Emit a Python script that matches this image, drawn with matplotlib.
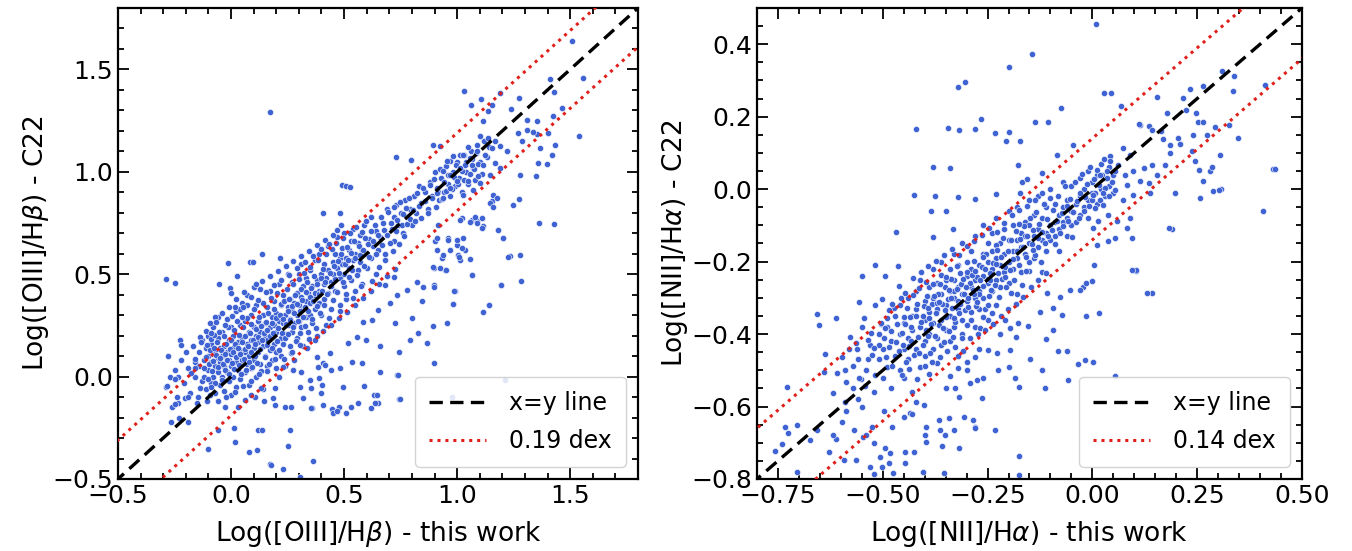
import numpy as np
import matplotlib.pyplot as plt
from matplotlib.ticker import MultipleLocator

# ---- left panel: [OIII]/Hbeta, this work vs C22 ----
oiii_core = [
    (-0.29, -0.05), (-0.27, 0.0), (-0.25, 0.03), (-0.24, -0.1), (-0.22, 0.08), (-0.21, -0.03),
    (-0.2, 0.12), (-0.19, 0.04), (-0.18, -0.08), (-0.17, 0.15), (-0.16, 0.0), (-0.16, 0.07),
    (-0.15, -0.13), (-0.23, -0.2), (-0.26, -0.15), (-0.28, 0.1),
    (-0.14, 0.05), (-0.14, 0.12), (-0.13, -0.02), (-0.13, 0.18), (-0.12, 0.08), (-0.12, 0.0),
    (-0.11, 0.14), (-0.11, -0.06), (-0.10, 0.1), (-0.10, 0.03), (-0.10, 0.2), (-0.09, -0.03),
    (-0.09, 0.07), (-0.09, 0.16), (-0.08, 0.11), (-0.08, 0.0), (-0.08, 0.24), (-0.07, 0.05),
    (-0.07, -0.08), (-0.07, 0.13), (-0.06, 0.09), (-0.06, 0.19), (-0.06, 0.02), (-0.05, -0.04),
    (-0.05, 0.14), (-0.05, 0.07),
    (-0.04, 0.1), (-0.04, 0.22), (-0.04, 0.0), (-0.03, 0.05), (-0.03, 0.15), (-0.03, -0.07),
    (-0.02, 0.12), (-0.02, 0.28), (-0.02, 0.02), (-0.01, 0.08), (-0.01, 0.18), (-0.01, -0.02),
    (0.0, 0.11), (0.0, 0.05), (0.0, 0.24), (0.0, -0.09), (0.01, 0.14), (0.01, 0.0), (0.01, 0.2),
    (0.02, 0.07), (0.02, 0.32), (0.02, -0.05), (0.03, 0.1), (0.03, 0.17), (0.03, 0.03),
    (0.04, 0.13), (0.04, 0.25), (0.04, -0.01), (0.05, 0.08), (0.05, 0.19), (0.05, 0.36),
    (0.06, 0.12), (0.06, 0.02), (0.06, 0.27), (0.07, 0.16), (0.07, 0.06), (0.07, 0.4),
    (0.08, 0.1), (0.08, 0.22), (0.08, -0.04), (0.09, 0.18), (0.09, 0.3), (0.09, 0.04),
    (0.10, 0.14), (0.10, 0.24), (0.10, 0.08), (0.11, 0.2), (0.11, 0.35), (0.11, 0.0),
    (0.12, 0.12), (0.12, 0.27), (0.12, 0.17), (0.13, 0.06), (0.13, 0.22), (0.13, 0.43),
    (0.14, 0.15), (0.14, 0.3), (0.14, -0.06), (0.15, 0.2), (0.15, 0.1), (0.15, 0.26),
    (0.16, 0.18), (0.16, 0.34), (0.16, 0.05), (0.17, 0.24), (0.17, 0.13), (0.17, 0.42),
    (0.18, 0.2), (0.18, 0.29), (0.18, 0.08), (0.19, 0.16), (0.19, 0.37), (0.19, 0.25),
    (0.2, 0.22), (0.2, 0.12), (0.2, 0.31), (0.21, 0.27), (0.21, 0.0), (0.21, 0.45),
    (0.22, 0.19), (0.22, 0.35), (0.22, 0.1), (0.23, 0.26), (0.23, 0.4), (0.23, 0.16),
    (0.24, 0.3), (0.24, 0.21), (0.24, 0.05), (0.25, 0.34), (0.25, 0.25), (0.25, 0.5),
    (0.26, 0.28), (0.26, 0.38), (0.26, 0.15), (0.27, 0.32), (0.27, 0.22), (0.27, 0.46),
    (0.28, 0.36), (0.28, 0.26), (0.28, 0.08), (0.29, 0.3), (0.29, 0.41), (0.29, 0.19),
    (0.3, 0.35), (0.3, 0.5), (0.3, 0.27), (0.31, 0.39), (0.31, 0.24), (0.31, 0.55),
    (0.32, 0.33), (0.32, 0.44), (0.32, 0.15), (0.33, 0.37), (0.33, 0.29), (0.33, 0.48),
    (0.34, 0.41), (0.34, 0.22), (0.35, 0.36), (0.35, 0.52), (0.35, 0.3),
    (0.36, 0.44), (0.36, 0.26), (0.37, 0.39), (0.37, 0.57), (0.37, 0.33), (0.38, 0.47),
    (0.38, 0.2), (0.39, 0.42), (0.39, 0.36), (0.39, 0.6), (0.4, 0.5), (0.4, 0.3),
    (0.41, 0.45), (0.41, 0.38), (0.41, 0.55), (0.42, 0.48), (0.42, 0.25), (0.43, 0.52),
    (0.43, 0.41), (0.43, 0.64), (0.44, 0.46), (0.44, 0.33), (0.45, 0.56), (0.45, 0.5),
    (0.46, 0.6), (0.46, 0.42), (0.47, 0.53), (0.47, 0.68), (0.48, 0.48), (0.48, 0.58),
    (0.48, 0.35), (0.49, 0.55), (0.49, 0.63), (0.5, 0.5), (0.5, 0.44), (0.5, 0.7),
    (0.51, 0.58), (0.51, 0.38), (0.52, 0.62), (0.52, 0.53), (0.53, 0.66), (0.53, 0.47),
    (0.54, 0.57), (0.54, 0.72), (0.55, 0.6), (0.55, 0.42),
    (0.56, 0.65), (0.56, 0.52), (0.57, 0.69), (0.57, 0.56), (0.58, 0.62), (0.58, 0.45),
    (0.59, 0.74), (0.6, 0.6), (0.6, 0.53), (0.61, 0.67), (0.62, 0.58), (0.62, 0.78),
    (0.63, 0.64), (0.64, 0.5), (0.64, 0.71), (0.65, 0.62), (0.66, 0.68), (0.67, 0.75),
    (0.68, 0.6), (0.69, 0.82),
    (0.71, 0.72), (0.72, 0.78), (0.72, 0.66), (0.73, 0.84), (0.74, 0.74), (0.75, 0.8),
    (0.76, 0.7), (0.77, 0.86), (0.78, 0.78), (0.79, 0.82), (0.8, 0.74), (0.81, 0.88),
    (0.82, 0.8), (0.83, 0.93), (0.84, 0.85),
    (0.86, 0.9), (0.87, 0.82), (0.88, 0.95), (0.89, 0.88), (0.9, 1.0), (0.91, 0.92),
    (0.92, 0.86), (0.93, 0.97), (0.94, 0.9), (0.95, 1.03), (0.96, 0.94), (0.97, 0.88),
    (0.98, 1.0), (0.99, 0.93),
    (1.0, 1.05), (1.01, 0.97), (1.02, 0.9), (1.03, 1.08), (1.04, 1.0), (1.05, 0.94),
    (1.06, 1.1), (1.07, 1.02), (1.08, 0.96), (1.09, 1.13), (1.1, 1.05), (1.11, 0.99),
    (1.12, 1.15), (1.13, 1.07), (1.14, 1.12),
]

oiii_dense = [
    (-0.118, 0.043), (-0.112, 0.098), (-0.106, 0.152), (-0.101, -0.012), (-0.097, 0.061),
    (-0.093, 0.128), (-0.088, 0.185), (-0.084, 0.025), (-0.079, 0.077), (-0.075, 0.142),
    (-0.071, -0.031), (-0.066, 0.104), (-0.062, 0.168), (-0.058, 0.047), (-0.054, 0.216),
    (-0.049, 0.089), (-0.045, 0.131), (-0.041, -0.018), (-0.037, 0.061), (-0.033, 0.196),
    (-0.029, 0.112), (-0.025, 0.034), (-0.021, 0.158), (-0.017, 0.083), (-0.013, 0.241),
    (-0.009, 0.012), (-0.005, 0.137), (-0.002, 0.179),
    (0.003, 0.066), (0.007, 0.118), (0.011, 0.226), (0.014, 0.038), (0.018, 0.161), (0.022, 0.097),
    (0.026, 0.272), (0.029, 0.139), (0.033, 0.058), (0.037, 0.205), (0.041, 0.112), (0.045, 0.015),
    (0.048, 0.168), (0.052, 0.244), (0.056, 0.086), (0.06, 0.133), (0.063, 0.196), (0.067, 0.031),
    (0.071, 0.288), (0.075, 0.151), (0.078, 0.072), (0.082, 0.215), (0.086, 0.119), (0.09, 0.255),
    (0.093, 0.047), (0.097, 0.178), (0.101, 0.331), (0.105, 0.103), (0.108, 0.157), (0.112, 0.232),
    (0.116, 0.068), (0.119, 0.193),
    (0.123, 0.291), (0.127, 0.137), (0.131, 0.248), (0.134, 0.026), (0.138, 0.181), (0.142, 0.357),
    (0.146, 0.212), (0.149, 0.094), (0.153, 0.269), (0.157, 0.153), (0.16, 0.228), (0.164, 0.311),
    (0.168, 0.062), (0.172, 0.196), (0.175, 0.385), (0.179, 0.142), (0.183, 0.262), (0.187, 0.215),
    (0.19, 0.331), (0.194, 0.087), (0.198, 0.284), (0.201, 0.173), (0.205, 0.406), (0.209, 0.238),
    (0.213, 0.129), (0.216, 0.301), (0.22, 0.353), (0.224, 0.214), (0.228, 0.279), (0.231, 0.048),
    (0.235, 0.367), (0.239, 0.188), (0.243, 0.257), (0.246, 0.428), (0.25, 0.322),
    (0.254, 0.207), (0.258, 0.381), (0.261, 0.276), (0.265, 0.117), (0.269, 0.344), (0.273, 0.452),
    (0.276, 0.241), (0.28, 0.309), (0.284, 0.397), (0.288, 0.176), (0.291, 0.354), (0.295, 0.27),
    (0.299, 0.478), (0.303, 0.318), (0.306, 0.211), (0.31, 0.426), (0.314, 0.372), (0.318, 0.289),
    (0.321, 0.508), (0.325, 0.341), (0.329, 0.245), (0.333, 0.412), (0.336, 0.463), (0.34, 0.318),
    (0.344, 0.186), (0.348, 0.387), (0.351, 0.536), (0.355, 0.433), (0.359, 0.282), (0.363, 0.371),
    (0.366, 0.489), (0.37, 0.41), (0.374, 0.237), (0.378, 0.453), (0.381, 0.346), (0.385, 0.571),
    (0.389, 0.402), (0.393, 0.311), (0.396, 0.482),
    (0.402, 0.418), (0.407, 0.527), (0.412, 0.349), (0.417, 0.463), (0.421, 0.597), (0.426, 0.401),
    (0.431, 0.288), (0.436, 0.505), (0.44, 0.442), (0.445, 0.621), (0.45, 0.372), (0.455, 0.538),
    (0.459, 0.478), (0.464, 0.652), (0.469, 0.411), (0.474, 0.566), (0.478, 0.507), (0.483, 0.319),
    (0.488, 0.601), (0.493, 0.462), (0.497, 0.679), (0.502, 0.548), (0.507, 0.404), (0.512, 0.633),
    (0.516, 0.571), (0.521, 0.487), (0.526, 0.701), (0.531, 0.604), (0.535, 0.522), (0.54, 0.386),
    (0.545, 0.663), (0.55, 0.578), (0.554, 0.729), (0.559, 0.497), (0.564, 0.638), (0.569, 0.592),
    (0.573, 0.444), (0.578, 0.708), (0.583, 0.616), (0.588, 0.538), (0.592, 0.678), (0.597, 0.761),
    (0.604, 0.648), (0.611, 0.582), (0.617, 0.713), (0.624, 0.469), (0.63, 0.664), (0.637, 0.742),
    (0.643, 0.598), (0.65, 0.691), (0.656, 0.537), (0.663, 0.779), (0.669, 0.644), (0.676, 0.718),
    (0.682, 0.571), (0.689, 0.692), (0.695, 0.803), (0.702, 0.654), (0.708, 0.752), (0.715, 0.612),
    (0.721, 0.827), (0.728, 0.709), (0.734, 0.767), (0.741, 0.648), (0.747, 0.851), (0.754, 0.738),
    (0.76, 0.793), (0.767, 0.686), (0.773, 0.821), (0.78, 0.746), (0.786, 0.872), (0.793, 0.769),
    (0.806, 0.812), (0.815, 0.761), (0.824, 0.897), (0.833, 0.832), (0.842, 0.774), (0.851, 0.921),
    (0.86, 0.858), (0.869, 0.801), (0.878, 0.938), (0.887, 0.871), (0.896, 0.963), (0.905, 0.827),
    (0.914, 0.902), (0.923, 1.012), (0.932, 0.868), (0.941, 0.951), (0.95, 0.907), (0.959, 0.982),
    (0.968, 1.054), (0.977, 0.918), (0.986, 0.973), (0.995, 1.031), (1.004, 0.942), (1.013, 1.084),
    (1.022, 1.006), (1.031, 0.958), (1.04, 1.047), (1.049, 1.122), (1.058, 0.991), (1.067, 1.063),
    (1.076, 1.014), (1.085, 1.092), (1.094, 1.036),
    (-0.111, 0.221), (-0.094, 0.262), (-0.077, 0.203), (-0.059, 0.291), (-0.042, 0.312),
    (-0.027, 0.254), (-0.011, 0.338), (0.006, 0.296), (0.021, 0.377), (0.038, 0.331),
    (0.055, 0.412), (0.069, 0.352), (0.087, 0.391), (0.103, 0.436), (0.121, 0.372),
    (0.139, 0.468), (0.154, 0.412), (0.171, 0.491), (0.189, 0.447), (0.206, 0.518),
    (0.223, 0.472), (0.241, 0.542), (0.257, 0.498), (0.274, 0.566), (0.292, 0.531),
    (0.309, 0.587), (0.327, 0.562), (0.344, 0.612), (0.362, 0.588), (0.379, 0.641),
    (0.397, 0.622), (0.414, 0.667), (0.432, 0.649), (0.449, 0.692), (0.467, 0.716), (0.485, 0.741),
    (-0.091, -0.092), (-0.058, -0.121), (-0.021, -0.098), (0.018, -0.073), (0.052, -0.047),
    (0.088, -0.021), (0.124, 0.011), (0.161, 0.028), (0.197, 0.041), (0.232, 0.088),
    (0.268, 0.121), (0.303, 0.152), (0.338, 0.139), (0.372, 0.181), (0.408, 0.221),
    (0.443, 0.254), (0.478, 0.288), (0.513, 0.317), (0.548, 0.351), (0.584, 0.386),
    (0.619, 0.418), (0.654, 0.452), (0.689, 0.491), (0.724, 0.527),
]

oiii_scatter = [
    (1.51, 1.64), (1.555, 1.458), (1.539, 1.177), (1.411, 1.453), (1.43, 1.39), (1.275, 1.361),
    (1.19, 1.385), (1.106, 1.357), (1.03, 1.396), (1.06, 1.328), (1.153, 1.328), (1.138, 1.295),
    (1.238, 1.308), (1.462, 1.312), (1.425, 1.271), (1.352, 1.247), (1.308, 1.255), (1.116, 1.247),
    (1.271, 1.19), (1.308, 1.206), (1.285, 1.149), (1.352, 1.185), (1.337, 1.195), (1.403, 1.19),
    (1.433, 1.133), (1.367, 1.116), (1.359, 1.043), (1.399, 1.04), (1.418, 1.084),
    (1.278, 0.986), (1.347, 0.981), (1.249, 0.84), (1.275, 0.869), (1.364, 0.75), (1.428, 0.745),
    (1.182, 0.718), (1.201, 0.677), (1.234, 0.587), (1.278, 0.592), (1.281, 0.465), (1.193, 0.449),
    (1.142, 0.351), (0.983, 0.356), (0.99, 0.417), (1.064, 0.498), (0.898, 0.446), (0.946, 0.522),
    (0.898, 0.53), (0.932, 0.579), (1.013, 0.571), (1.057, 0.576),
    (1.101, 1.173), (1.138, 1.165), (1.167, 1.149), (1.153, 1.116), (1.19, 1.125), (1.219, 1.1),
    (1.123, 1.084), (1.086, 1.1), (1.057, 1.068), (1.035, 1.035), (1.013, 1.019), (1.064, 1.035),
    (1.116, 1.035), (1.167, 1.043), (1.19, 1.019), (1.145, 0.986), (1.094, 0.978), (1.05, 0.954),
    (0.998, 0.954), (0.968, 0.986), (0.939, 1.002), (0.954, 1.051), (0.983, 1.076), (0.924, 1.125),
    (0.895, 1.133), (1.027, 1.084), (1.072, 0.913), (1.027, 0.889), (0.968, 0.921), (0.939, 0.872),
    (0.909, 0.897), (1.101, 0.946), (1.16, 0.889), (1.153, 0.856), (1.02, 0.775), (1.064, 0.766),
    (1.086, 0.758), (1.116, 0.734), (1.108, 0.775), (1.027, 0.677), (0.961, 0.677), (0.917, 0.742),
    (0.902, 0.661), (1.035, 0.62), (0.998, 0.644), (1.005, 0.596),
    (0.49, 0.935), (0.509, 0.93), (0.526, 0.927), (0.73, 1.074), (0.795, 1.057), (0.408, 0.797),
    (0.482, 0.8), (1.064, 0.496), (1.193, 0.447), (1.143, 0.349), (1.113, 0.317), (0.986, 0.419),
    (0.983, 0.354), (0.957, 0.26), (0.895, 0.247), (0.898, 0.068), (0.829, 0.214), (0.792, 0.178),
    (0.865, 0.166), (0.745, 0.122), (0.736, 0.008), (0.745, -0.111), (0.659, 0.149), (0.659, 0.024),
    (0.634, -0.09), (0.652, -0.131), (0.618, -0.155), (0.563, -0.131), (0.578, 0.065), (0.534, 0.073),
    (0.482, 0.04), (0.497, -0.049), (0.45, -0.163), (0.408, -0.139), (0.479, -0.147), (0.357, -0.155),
    (0.401, -0.041), (0.349, -0.017), (0.305, -0.049), (0.408, 0.064), (0.379, 0.097), (0.438, 0.113),
    (0.519, 0.162), (0.556, 0.195), (0.597, 0.178), (0.622, 0.276), (0.652, 0.325), (0.582, 0.268),
    (0.725, 0.26), (0.8, 0.284), (0.851, 0.439), (0.898, 0.439), (0.843, 0.37), (0.777, 0.423),
    (0.821, 0.463), (0.733, 0.398), (0.703, 0.357), (0.681, 0.447), (0.721, 0.488), (0.924, 0.528),
    (0.951, 0.52), (0.895, 0.536), (0.91, 0.618), (0.939, 0.594), (0.969, 0.618), (1.006, 0.585),
    (1.02, 0.626), (0.998, 0.667), (0.961, 0.667), (0.91, 0.675), (1.013, 0.764), (1.057, 0.756),
    (1.087, 0.748), (1.109, 0.724), (1.079, 0.781), (1.146, 0.846), (1.16, 0.83), (1.175, 0.87),
    (1.182, 0.716), (1.205, 0.675), (1.227, 0.585),
    (0.17, 1.29), (-0.286, 0.475), (-0.249, 0.455), (-0.013, 0.553), (0.028, 0.493), (-0.055, 0.452),
    (-0.006, 0.431), (0.001, 0.41), (0.112, 0.45), (0.085, 0.561), (0.097, 0.559), (0.137, 0.598),
    (0.215, 0.577), (-0.227, 0.179), (-0.22, 0.154), (-0.139, 0.192), (-0.131, 0.171),
    (-0.158, 0.084), (-0.161, 0.043), (-0.176, 0.016), (-0.235, -0.004), (-0.249, -0.014),
    (-0.282, -0.046), (-0.235, -0.131), (-0.205, -0.106), (-0.19, -0.098), (-0.246, -0.134),
    (-0.264, -0.223), (-0.19, -0.22), (-0.146, -0.098), (-0.139, -0.058), (-0.105, -0.117),
    (-0.087, -0.049), (-0.072, 0.293), (-0.065, 0.268), (-0.087, 0.211), (0.016, 0.341),
    (0.053, 0.341), (0.048, 0.293), (-0.102, -0.355), (-0.058, -0.261), (0.012, -0.253),
    (0.016, -0.32), (0.078, -0.367), (0.116, -0.359), (0.119, -0.261), (0.137, -0.261),
    (0.174, -0.427), (0.23, -0.453), (0.252, -0.339), (0.262, -0.261), (0.362, -0.411),
    (0.355, -0.155), (0.396, -0.082), (0.389, -0.009), (0.446, -0.158), (0.451, -0.177),
    (0.267, -0.147), (0.193, -0.139), (0.186, -0.106), (0.237, -0.147), (0.318, -0.106),
    (0.311, 0.024), (0.274, 0.032), (0.146, -0.12), (0.104, -0.098), (0.09, -0.09), (0.06, -0.114),
    (0.134, -0.057), (0.031, -0.147), (-0.025, -0.147), (0.193, -0.057), (0.355, -0.057),
    (0.385, 0.048), (0.414, 0.057), (0.443, 0.032),
    (0.74, 0.008), (0.747, -0.111), (1.212, -0.017), (0.976, -0.098), (0.53, -0.15), (0.51, -0.18),
    (0.47, -0.17), (0.304, -0.49), (0.176, -0.43), (0.637, -0.13), (0.647, -0.09), (0.588, -0.046),
]

# ---- right panel: [NII]/Halpha, this work vs C22 ----
nii_core = [
    (-0.59, -0.5), (-0.58, -0.44), (-0.57, -0.55), (-0.56, -0.47), (-0.55, -0.38), (-0.55, -0.6),
    (-0.54, -0.5), (-0.53, -0.43), (-0.52, -0.56), (-0.51, -0.47), (-0.51, -0.4), (-0.5, -0.52),
    (-0.5, -0.44), (-0.49, -0.38), (-0.49, -0.49), (-0.48, -0.42), (-0.48, -0.55), (-0.47, -0.35),
    (-0.47, -0.46), (-0.46, -0.4), (-0.46, -0.5), (-0.46, -0.32), (-0.45, -0.44), (-0.45, -0.37),
    (-0.45, -0.52), (-0.44, -0.3), (-0.44, -0.41), (-0.44, -0.47), (-0.43, -0.35), (-0.43, -0.39),
    (-0.43, -0.56), (-0.42, -0.28), (-0.42, -0.44), (-0.42, -0.33), (-0.41, -0.38), (-0.41, -0.49),
    (-0.41, -0.25), (-0.4, -0.42), (-0.4, -0.31), (-0.4, -0.36), (-0.4, -0.46),
    (-0.39, -0.27), (-0.39, -0.34), (-0.39, -0.4), (-0.39, -0.51), (-0.38, -0.3), (-0.38, -0.37),
    (-0.38, -0.44), (-0.38, -0.22), (-0.37, -0.33), (-0.37, -0.41), (-0.37, -0.26), (-0.37, -0.48),
    (-0.36, -0.29), (-0.36, -0.36), (-0.36, -0.2), (-0.36, -0.43), (-0.35, -0.32), (-0.35, -0.25),
    (-0.35, -0.39), (-0.35, -0.55),
    (-0.34, -0.28), (-0.34, -0.35), (-0.34, -0.22), (-0.34, -0.42), (-0.33, -0.3), (-0.33, -0.18),
    (-0.33, -0.38), (-0.33, -0.25), (-0.32, -0.33), (-0.32, -0.27), (-0.32, -0.46), (-0.32, -0.21),
    (-0.31, -0.29), (-0.31, -0.36), (-0.31, -0.15), (-0.31, -0.4), (-0.3, -0.24), (-0.3, -0.31),
    (-0.3, -0.2), (-0.3, -0.5),
    (-0.29, -0.27), (-0.29, -0.34), (-0.29, -0.17), (-0.29, -0.22), (-0.28, -0.3), (-0.28, -0.25),
    (-0.28, -0.38), (-0.28, -0.13), (-0.27, -0.21), (-0.27, -0.28), (-0.27, -0.33), (-0.27, -0.44),
    (-0.26, -0.24), (-0.26, -0.18), (-0.26, -0.3), (-0.26, -0.1), (-0.25, -0.26), (-0.25, -0.2),
    (-0.25, -0.36), (-0.25, -0.15),
    (-0.24, -0.22), (-0.24, -0.28), (-0.24, -0.12), (-0.24, -0.17), (-0.23, -0.25), (-0.23, -0.19),
    (-0.23, -0.32), (-0.23, -0.08), (-0.22, -0.21), (-0.22, -0.15), (-0.22, -0.27), (-0.22, -0.4),
    (-0.21, -0.18), (-0.21, -0.23), (-0.21, -0.11), (-0.2, -0.2), (-0.2, -0.14), (-0.2, -0.26),
    (-0.2, -0.06),
    (-0.19, -0.17), (-0.19, -0.22), (-0.19, -0.1), (-0.18, -0.14), (-0.18, -0.19), (-0.18, -0.29),
    (-0.18, -0.05), (-0.17, -0.16), (-0.17, -0.12), (-0.17, -0.23), (-0.16, -0.18), (-0.16, -0.09),
    (-0.16, -0.13), (-0.15, -0.15), (-0.15, -0.2), (-0.15, -0.03), (-0.15, -0.1),
    (-0.14, -0.13), (-0.14, -0.07), (-0.14, -0.19), (-0.13, -0.11), (-0.13, -0.16), (-0.13, -0.02),
    (-0.12, -0.14), (-0.12, -0.08), (-0.12, -0.23), (-0.11, -0.12), (-0.11, -0.05), (-0.11, -0.17),
    (-0.1, -0.1), (-0.1, -0.14), (-0.1, 0.0),
    (-0.09, -0.09), (-0.09, -0.13), (-0.09, -0.04), (-0.08, -0.07), (-0.08, -0.11), (-0.08, -0.17),
    (-0.07, -0.05), (-0.07, -0.09), (-0.07, 0.02), (-0.06, -0.08), (-0.06, -0.03), (-0.06, -0.13),
    (-0.05, -0.06), (-0.05, 0.01), (-0.05, -0.1),
    (-0.04, -0.04), (-0.04, -0.09), (-0.03, -0.02), (-0.03, 0.03), (-0.03, -0.07), (-0.02, -0.05),
    (-0.02, 0.0), (-0.01, -0.03), (-0.01, 0.05), (-0.01, -0.08), (0.0, -0.01), (0.0, 0.02),
    (0.01, -0.04), (0.01, 0.04), (0.02, 0.0), (0.02, 0.07), (0.03, -0.02), (0.03, 0.03),
    (0.04, 0.01), (0.04, 0.06), (0.05, -0.01), (0.05, 0.04),
]

nii_dense = [
    (-0.497, -0.412), (-0.493, -0.463), (-0.489, -0.357), (-0.485, -0.436), (-0.481, -0.391),
    (-0.477, -0.488), (-0.473, -0.329), (-0.469, -0.421), (-0.465, -0.372), (-0.461, -0.447),
    (-0.457, -0.301), (-0.453, -0.398), (-0.449, -0.354), (-0.445, -0.476), (-0.441, -0.327),
    (-0.437, -0.432), (-0.433, -0.381), (-0.429, -0.291), (-0.425, -0.458), (-0.421, -0.349),
    (-0.417, -0.407), (-0.413, -0.272), (-0.409, -0.366), (-0.405, -0.431), (-0.401, -0.323),
    (-0.397, -0.388), (-0.394, -0.296), (-0.39, -0.357), (-0.387, -0.452), (-0.383, -0.318),
    (-0.38, -0.261), (-0.376, -0.404), (-0.373, -0.342), (-0.369, -0.289), (-0.366, -0.376),
    (-0.362, -0.237), (-0.359, -0.318), (-0.355, -0.421), (-0.352, -0.271), (-0.348, -0.354),
    (-0.345, -0.302), (-0.341, -0.391), (-0.338, -0.249), (-0.334, -0.328), (-0.331, -0.282),
    (-0.327, -0.367), (-0.324, -0.213), (-0.32, -0.308), (-0.317, -0.343), (-0.313, -0.262),
    (-0.31, -0.412), (-0.306, -0.289), (-0.303, -0.334), (-0.299, -0.228),
    (-0.296, -0.301), (-0.292, -0.259), (-0.289, -0.361), (-0.285, -0.278), (-0.282, -0.197),
    (-0.278, -0.322), (-0.275, -0.243), (-0.271, -0.289), (-0.268, -0.384), (-0.264, -0.215),
    (-0.261, -0.268), (-0.257, -0.331), (-0.254, -0.178), (-0.25, -0.249), (-0.247, -0.296),
    (-0.243, -0.232), (-0.24, -0.343), (-0.236, -0.203), (-0.233, -0.264), (-0.229, -0.155),
    (-0.226, -0.231), (-0.222, -0.297), (-0.219, -0.188), (-0.215, -0.248), (-0.212, -0.136),
    (-0.208, -0.214), (-0.205, -0.269), (-0.201, -0.171),
    (-0.197, -0.224), (-0.193, -0.141), (-0.19, -0.193), (-0.186, -0.251), (-0.183, -0.116),
    (-0.179, -0.172), (-0.176, -0.208), (-0.172, -0.138), (-0.169, -0.264), (-0.165, -0.159),
    (-0.162, -0.102), (-0.158, -0.187), (-0.155, -0.128), (-0.151, -0.226), (-0.148, -0.079),
    (-0.144, -0.152), (-0.141, -0.113), (-0.137, -0.181), (-0.134, -0.062), (-0.13, -0.134),
    (-0.127, -0.097), (-0.123, -0.201), (-0.12, -0.118), (-0.116, -0.041), (-0.113, -0.148),
    (-0.109, -0.083), (-0.106, -0.129), (-0.102, -0.024),
    (-0.097, -0.112), (-0.093, -0.058), (-0.089, -0.151), (-0.085, -0.087), (-0.081, -0.019),
    (-0.077, -0.121), (-0.073, -0.066), (-0.069, -0.102), (-0.065, 0.008), (-0.061, -0.046),
    (-0.057, -0.089), (-0.053, -0.027), (-0.049, -0.131), (-0.045, -0.063), (-0.041, 0.021),
    (-0.037, -0.034), (-0.033, -0.081), (-0.029, -0.012), (-0.025, 0.042), (-0.021, -0.061),
    (-0.017, -0.022), (-0.013, 0.014), (-0.009, -0.047), (-0.005, 0.061), (-0.001, -0.029),
    (0.003, 0.029), (0.007, -0.012), (0.011, 0.052), (0.015, 0.011), (0.019, -0.031),
    (0.023, 0.038), (0.027, 0.083), (0.031, 0.004), (0.035, 0.049), (0.039, -0.018),
    (0.043, 0.092), (0.047, 0.021),
    (-0.597, -0.462), (-0.588, -0.531), (-0.579, -0.409), (-0.571, -0.487), (-0.562, -0.441),
    (-0.553, -0.523), (-0.544, -0.356), (-0.536, -0.469), (-0.527, -0.398), (-0.518, -0.512),
    (-0.509, -0.431), (-0.503, -0.371),
    (-0.392, -0.327), (-0.378, -0.296), (-0.364, -0.262), (-0.351, -0.334), (-0.337, -0.301),
    (-0.323, -0.276), (-0.309, -0.248), (-0.296, -0.324), (-0.283, -0.289), (-0.269, -0.252),
    (-0.256, -0.221), (-0.242, -0.278), (-0.229, -0.206), (-0.371, -0.314), (-0.357, -0.383),
    (-0.343, -0.279), (-0.329, -0.357), (-0.315, -0.231), (-0.302, -0.269), (-0.288, -0.237),
    (-0.274, -0.312), (-0.261, -0.186), (-0.248, -0.319), (-0.419, -0.316), (-0.405, -0.351),
    (-0.391, -0.406), (-0.433, -0.419), (-0.446, -0.371),
    (-0.462, -0.268), (-0.455, -0.512), (-0.447, -0.286), (-0.438, -0.497), (-0.428, -0.245),
    (-0.418, -0.523), (-0.409, -0.228), (-0.399, -0.487), (-0.391, -0.212), (-0.382, -0.476),
    (-0.372, -0.199), (-0.364, -0.462), (-0.354, -0.183), (-0.346, -0.448), (-0.336, -0.166),
    (-0.327, -0.437), (-0.318, -0.181), (-0.309, -0.446), (-0.3, -0.158), (-0.291, -0.412),
    (-0.282, -0.142), (-0.273, -0.401), (-0.264, -0.127), (-0.255, -0.389), (-0.246, -0.108),
    (-0.237, -0.372), (-0.228, -0.119), (-0.219, -0.351), (-0.21, -0.094), (-0.201, -0.332),
    (-0.192, -0.071), (-0.183, -0.316), (-0.174, -0.058), (-0.165, -0.297), (-0.156, -0.046),
    (-0.147, -0.271), (-0.138, -0.031), (-0.129, -0.252), (-0.12, -0.012), (-0.111, -0.231),
    (-0.478, -0.318), (-0.452, -0.431), (-0.436, -0.352), (-0.414, -0.452), (-0.398, -0.255),
    (-0.384, -0.372), (-0.366, -0.312), (-0.349, -0.243), (-0.333, -0.408), (-0.316, -0.318),
    (-0.298, -0.374), (-0.281, -0.226), (-0.262, -0.352), (-0.244, -0.252), (-0.227, -0.168),
    (-0.209, -0.242), (-0.193, -0.286), (-0.176, -0.095), (-0.159, -0.226), (-0.142, -0.169),
]

nii_scatter = [
    (-0.657, -0.345), (-0.653, -0.375), (-0.612, -0.355), (-0.637, -0.455), (-0.564, -0.424),
    (-0.518, -0.32), (-0.502, -0.304), (-0.494, -0.24), (-0.464, -0.212), (-0.486, -0.334),
    (-0.534, -0.416), (-0.522, -0.439), (-0.526, -0.458), (-0.504, -0.37), (-0.494, -0.384),
    (-0.728, -0.547), (-0.705, -0.651), (-0.732, -0.656), (-0.674, -0.692), (-0.641, -0.504),
    (-0.629, -0.725), (-0.608, -0.508), (-0.619, -0.564), (-0.589, -0.587), (-0.587, -0.612),
    (-0.597, -0.642), (-0.592, -0.748), (-0.612, -0.69), (-0.557, -0.522), (-0.542, -0.543),
    (-0.56, -0.58), (-0.569, -0.665), (-0.546, -0.683), (-0.526, -0.656), (-0.52, -0.7),
    (-0.506, -0.738), (-0.494, -0.715), (-0.482, -0.729), (-0.484, -0.757), (-0.476, -0.784),
    (-0.502, -0.766), (-0.531, -0.766), (-0.522, -0.786), (-0.478, -0.656), (-0.446, -0.725),
    (-0.426, -0.725), (-0.45, -0.628), (-0.434, -0.619), (-0.402, -0.596), (-0.42, -0.587),
    (-0.398, -0.656), (-0.398, -0.697), (-0.367, -0.637), (-0.363, -0.665), (-0.343, -0.633),
    (-0.351, -0.679), (-0.317, -0.715), (-0.307, -0.628), (-0.285, -0.637), (-0.279, -0.656),
    (-0.291, -0.536), (-0.319, -0.573), (-0.355, -0.784), (-0.446, -0.757), (-0.705, -0.78),
    (-0.344, 0.168), (-0.28, 0.165), (-0.199, 0.159), (-0.173, 0.134), (-0.107, 0.184),
    (-0.34, 0.058), (-0.375, -0.019), (-0.321, -0.022), (-0.279, -0.028), (-0.231, -0.013),
    (-0.177, 0.067), (-0.169, 0.021), (-0.157, 0.027), (-0.173, -0.01), (-0.348, -0.059),
    (-0.333, -0.109), (-0.379, -0.133), (-0.085, 0.094), (-0.045, 0.122), (0.114, 0.177),
    (-0.119, 0.044), (0.104, -0.225), (0.094, -0.136), (0.017, -0.343), (-0.015, -0.35),
    (-0.073, -0.347), (-0.095, -0.329), (-0.111, -0.414), (-0.081, -0.446), (-0.035, -0.482),
    (0.001, -0.476), (0.054, -0.517), (-0.057, -0.528), (-0.113, -0.55), (-0.149, -0.47),
    (-0.181, -0.407), (-0.197, -0.444), (-0.199, -0.49), (-0.224, -0.499), (-0.185, -0.522),
    (-0.174, -0.545), (-0.264, -0.577), (-0.26, -0.522), (-0.022, -0.269), (-0.014, -0.26),
    (-0.03, -0.278), (-0.053, -0.278), (-0.077, -0.298), (-0.093, -0.389), (-0.125, -0.338),
    (-0.109, -0.287), (-0.177, -0.37), (-0.153, -0.379), (-0.197, -0.384), (-0.208, -0.361),
    (-0.248, -0.444), (-0.228, -0.453), (-0.28, -0.462), (-0.3, -0.476), (-0.276, -0.526),
    (-0.328, -0.55), (-0.32, -0.494), (-0.34, -0.517),
    (0.009, 0.457), (0.044, 0.264), (0.068, 0.229), (0.155, 0.253), (0.177, 0.21), (0.217, 0.252),
    (0.233, 0.276), (0.265, 0.284), (0.309, 0.325), (0.338, 0.311), (0.336, 0.272), (0.412, 0.287),
    (0.112, 0.18), (0.134, 0.173), (0.142, 0.164), (0.164, 0.161), (0.223, 0.219), (0.247, 0.209),
    (0.253, 0.185), (0.263, 0.185), (0.293, 0.171), (0.327, 0.178), (0.347, 0.141), (0.239, 0.15),
    (0.273, 0.15), (0.205, 0.141), (0.209, 0.125), (0.184, 0.123), (0.169, 0.139), (0.185, 0.1),
    (0.237, 0.104), (0.245, 0.077), (0.305, 0.095), (0.281, 0.049), (0.285, 0.06), (0.43, 0.056),
    (0.408, -0.059), (0.263, 0.022), (0.257, -0.024), (0.287, -0.004), (0.306, 0.0), (0.197, -0.011),
    (0.189, -0.109), (0.103, -0.224), (0.142, -0.288), (-0.002, -0.254), (0.005, -0.208),
    (0.074, 0.114), (0.09, 0.095), (0.062, 0.068), (0.042, 0.077), (0.018, 0.04), (0.034, 0.031),
    (0.054, 0.049), (0.078, 0.04), (0.098, 0.049), (0.122, 0.058), (0.142, 0.068), (0.114, 0.022),
    (0.134, 0.017), (0.082, 0.012), (0.054, -0.001), (0.026, -0.011), (0.002, -0.015), (0.006, -0.052),
    (0.026, -0.043), (0.038, -0.07), (0.014, -0.089), (0.002, -0.107), (0.058, -0.089), (0.082, -0.107),
    (0.054, -0.135), (0.09, -0.08), (0.074, -0.029), (0.098, -0.015), (0.138, -0.011), (0.153, 0.04),
    (0.173, 0.068), (0.038, -0.144), (0.01, -0.153),
    (-0.2, 0.338), (-0.304, 0.295), (-0.32, 0.283), (-0.143, 0.373), (-0.266, 0.194), (-0.317, 0.164),
    (-0.42, 0.167), (-0.136, 0.184), (-0.232, 0.156), (-0.207, 0.133), (-0.076, 0.225), (0.028, 0.264),
    (-0.381, 0.061), (-0.425, -0.016), (-0.386, -0.06), (-0.469, -0.118), (-0.519, -0.21),
    (-0.55, -0.239), (-0.557, -0.311), (0.094, -0.224), (0.13, -0.287), (0.436, 0.056),
    (0.254, 0.054), (0.303, -0.002), (0.182, -0.108), (-0.06, -0.447), (-0.017, -0.471),
    (-0.121, -0.5), (-0.174, -0.79), (-0.174, -0.737), (-0.232, -0.664), (-0.281, -0.66),
    (-0.331, -0.664), (-0.359, -0.708), (-0.403, -0.78), (-0.4, -0.679), (-0.43, -0.621),
    (-0.497, -0.611), (-0.539, -0.679), (-0.565, -0.747), (-0.618, -0.679), (-0.657, -0.664),
    (-0.725, -0.674), (-0.74, -0.703), (-0.756, -0.722),
]

panels = [
    dict(points=oiii_core + oiii_dense + oiii_scatter, lim=(-0.5, 1.8), dex=0.19,
         major=(0.5, 0.5), minor=(0.1, 0.1), name='[OIII]/H$\\beta$'),
    dict(points=nii_core + nii_dense + nii_scatter, lim=(-0.8, 0.5), dex=0.14,
         major=(0.25, 0.2), minor=(0.05, 0.05), name='[NII]/H$\\alpha$'),
]

fig = plt.figure(figsize=(13.52, 5.51), dpi=100)
boxes = [[0.0873, 0.1307, 0.3846, 0.8548], [0.5599, 0.1307, 0.4031, 0.8548]]

for box, p in zip(boxes, panels):
    ax = fig.add_axes(box)
    pts = np.array(p['points'])
    ax.scatter(pts[:, 0], pts[:, 1], s=20, color='#3f63d3', edgecolors='white',
               linewidths=0.4, zorder=2)
    lo, hi = p['lim']
    line = np.array([lo - 0.5, hi + 0.5])
    ax.plot(line, line, color='black', ls=(0, (4, 2.2)), lw=2.4, label='x=y line', zorder=3)
    ax.plot(line, line + p['dex'], color='#e0201b', ls=(0, (1, 1.6)), lw=2.2,
            label='%.2f dex' % p['dex'], zorder=3)
    ax.plot(line, line - p['dex'], color='#e0201b', ls=(0, (1, 1.6)), lw=2.2, zorder=3)
    ax.set_xlim(lo, hi)
    ax.set_ylim(lo, hi)
    ax.xaxis.set_major_locator(MultipleLocator(p['major'][0]))
    ax.yaxis.set_major_locator(MultipleLocator(p['major'][1]))
    ax.xaxis.set_minor_locator(MultipleLocator(p['minor'][0]))
    ax.yaxis.set_minor_locator(MultipleLocator(p['minor'][1]))
    ax.tick_params(which='both', direction='in', top=True, right=True, labelsize=18,
                   width=1.3, colors='black')
    ax.tick_params(which='major', length=8)
    ax.tick_params(which='minor', length=4)
    for sp in ax.spines.values():
        sp.set_linewidth(1.6)
    ax.set_xlabel('Log(%s) - this work' % p['name'], fontsize=19, labelpad=8)
    ax.set_ylabel('Log(%s) - C22' % p['name'], fontsize=19, labelpad=1)
    leg = ax.legend(loc='lower right', fontsize=17, handlelength=2.4, handletextpad=1.0,
                    framealpha=0.85, borderpad=0.6, labelspacing=0.6)
    leg.get_frame().set_edgecolor('#cccccc')

fig.savefig('out.png', dpi=100)
